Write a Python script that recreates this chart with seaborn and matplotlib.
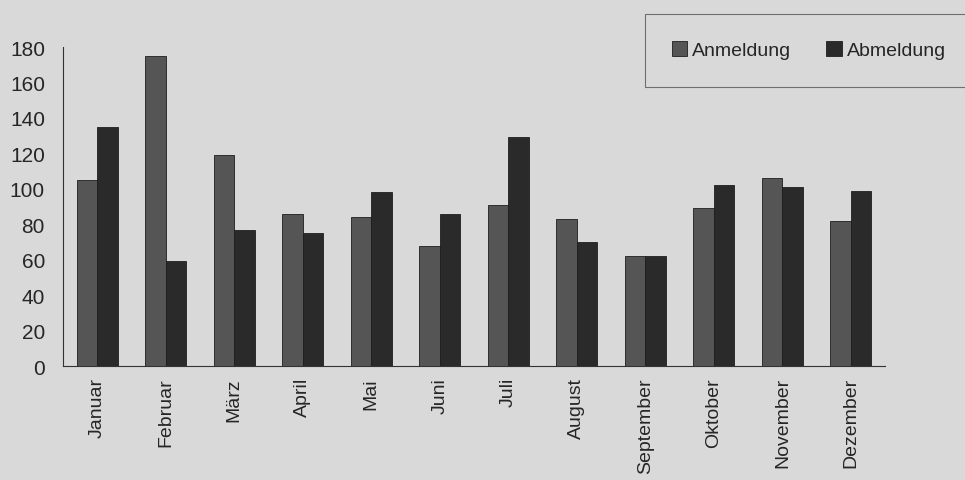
import matplotlib
matplotlib.use("Agg")
import matplotlib.pyplot as plt
import seaborn as sns
import pandas as pd
import numpy as np

months = ["Januar", "Februar", "März", "April", "Mai", "Juni", "Juli",
          "August", "September", "Oktober", "November", "Dezember"]
anmeldung = [105, 175, 119, 86, 84, 68, 91, 83, 62, 89, 106, 82]
abmeldung = [135, 59, 77, 75, 98, 86, 129, 70, 62, 102, 101, 99]
series = ["Anmeldung", "Abmeldung"]
yticks = [0, 20, 40, 60, 80, 100, 120, 140, 160, 180]

df = pd.DataFrame({
    "Monat": months * 2,
    "Wert": anmeldung + abmeldung,
    "Serie": [series[0]] * len(months) + [series[1]] * len(months),
})

sns.set_style("white")
plt.rcParams["font.family"] = ["Liberation Sans", "DejaVu Sans"]

bg = "#d9d9d9"
fig = plt.figure(figsize=(9.65, 4.81), dpi=100)
fig.patch.set_facecolor(bg)
ax = fig.add_axes([0.0653, 0.237, 0.852, 0.663])
ax.set_facecolor(bg)

sns.barplot(data=df, x="Monat", y="Wert", hue="Serie", order=months,
            hue_order=series, palette=["#555555", "#2a2a2a"],
            width=0.6, gap=0, saturation=1, ax=ax, legend=True,
            edgecolor="#1e1e1e", linewidth=0.6)

ax.set_xlim(-0.5, len(months) - 0.5)
ax.set_ylim(0, 180)
ax.set_yticks(yticks)
ax.set_yticklabels([str(v) for v in yticks], fontsize=15)
ax.set_xticks(range(len(months)))
ax.set_xticklabels(months, rotation=90, fontsize=14)
ax.set_xticks(np.arange(-0.5, len(months), 1.0), minor=True)
ax.tick_params(axis="x", which="major", length=0, pad=8)
ax.tick_params(axis="x", which="minor", length=6, direction="inout", width=0.8, color="#333333")
ax.tick_params(axis="y", length=3, direction="out", width=0.8, color="#333333", pad=10)
ax.set_xlabel("")
ax.set_ylabel("")
for s in ["top", "right"]:
    ax.spines[s].set_visible(False)
for s in ["left", "bottom"]:
    ax.spines[s].set_color("#333333")
    ax.spines[s].set_linewidth(0.8)

leg = ax.legend(loc="upper left", bbox_to_anchor=(0.668, 0.969),
                bbox_transform=fig.transFigure, ncol=2, frameon=True,
                fontsize=14, handlelength=0.8, handleheight=0.8,
                handletextpad=0.25, columnspacing=1.8, borderpad=1.4,
                borderaxespad=0, fancybox=False)
leg.get_frame().set_facecolor(bg)
leg.get_frame().set_edgecolor("#555555")
leg.get_frame().set_linewidth(0.8)

fig.savefig("out.png", dpi=100, facecolor=bg)
